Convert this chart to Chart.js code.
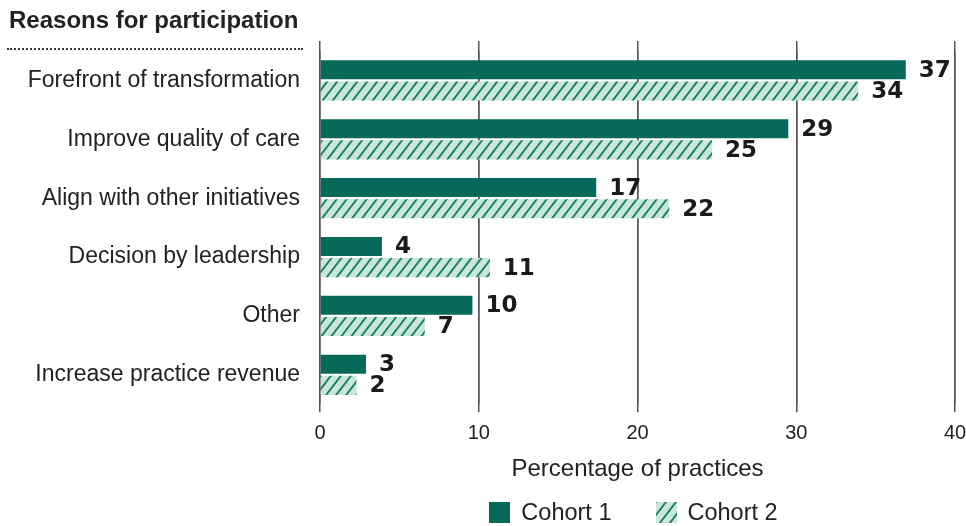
<!DOCTYPE html>
<html>
<head>
<meta charset="utf-8">
<script src="https://cdn.jsdelivr.net/npm/chart.js@4.4.1/dist/chart.umd.min.js"></script>
<style>
  html, body { margin: 0; padding: 0; background: #fff; }
  #wrap { position: relative; width: 966px; height: 526px; overflow: hidden; }
  #title {
    position: absolute; left: 9px; top: 6px;
    font: bold 24px "Liberation Sans", Arial, sans-serif; color: #222;
  }
  #rule {
    position: absolute; left: 7px; top: 48px; width: 296px; height: 0;
    border-top: 2px dotted #333;
  }
  canvas { position: absolute; left: 0; top: 0; }
  #legend {
    position: absolute; top: 499px; text-align: center;
    font: 23.5px "Liberation Sans", Arial, sans-serif; color: #222;
    white-space: nowrap;
  }
  #legend .item { display: inline-block; margin: 0 22px; }
  #legend canvas { position: static; vertical-align: -3px; margin-right: 11px; }
</style>
</head>
<body>
<div id="wrap">
  <canvas id="chart" width="966" height="526"></canvas>
  <div id="title">Reasons for participation</div>
  <div id="rule"></div>
  <div id="legend"></div>
</div>
<script>
// categories, top to bottom
const reasons = [
  'Forefront of transformation',
  'Improve quality of care',
  'Align with other initiatives',
  'Decision by leadership',
  'Other',
  'Increase practice revenue'
];
// bar lengths (percent of practices)
const cohort1 = [36.9, 29.5, 17.4, 3.9, 9.6, 2.9];
const cohort2 = [33.9, 24.7, 22.0, 10.7, 6.6, 2.3];
// printed value labels
const cohort1Labels = ['37', '29', '17', '4', '10', '3'];
const cohort2Labels = ['34', '25', '22', '11', '7', '2'];
const xTicks = [0, 10, 20, 30, 40];

const FONT = '"Liberation Sans", Arial, sans-serif';
const DARK = '#07695a';
const LIGHT = '#c6e7da';

// diagonal hatch for cohort 2
function makeHatch(g0) {
  const w = 10, h = 13;
  const c = document.createElement('canvas');
  c.width = w; c.height = h;
  const g = c.getContext('2d');
  g.fillStyle = LIGHT;
  g.fillRect(0, 0, w, h);
  g.strokeStyle = '#1c7a66';
  g.lineWidth = 1.9;
  g.beginPath();
  g.moveTo(-w, 2 * h); g.lineTo(2 * w, -h);
  g.moveTo(-2 * w, 2 * h); g.lineTo(w, -h);
  g.moveTo(0, 2 * h); g.lineTo(3 * w, -h);
  g.stroke();
  return g0.createPattern(c, 'repeat');
}

const ctx = document.getElementById('chart').getContext('2d');
const hatch = makeHatch(ctx);

// value labels at the bar ends
const valueLabels = {
  id: 'valueLabels',
  afterDatasetsDraw(chart) {
    const c = chart.ctx;
    const sets = [cohort1Labels, cohort2Labels];
    c.save();
    c.font = 'bold 23px "DejaVu Sans", ' + FONT;
    c.fillStyle = '#1a1a1a';
    c.textBaseline = 'middle';
    c.textAlign = 'left';
    chart.data.datasets.forEach((ds, i) => {
      chart.getDatasetMeta(i).data.forEach((bar, j) => {
        c.fillText(sets[i][j], bar.x + 13, bar.y + 1);
      });
    });
    c.restore();
  }
};

// html legend centred under the plot area
const htmlLegend = {
  id: 'htmlLegend',
  afterRender(chart) {
    const box = document.getElementById('legend');
    if (box.childNodes.length) return;
    const area = chart.chartArea;
    box.style.left = (area.left - 4) + 'px';
    box.style.width = (area.right - area.left) + 'px';
    chart.data.datasets.forEach(ds => {
      const item = document.createElement('span');
      item.className = 'item';
      const sw = document.createElement('canvas');
      sw.width = 21; sw.height = 21;
      const g = sw.getContext('2d');
      g.fillStyle = ds.backgroundColor === hatch ? makeHatch(g) : ds.backgroundColor;
      g.fillRect(0, 0, 21, 21);
      item.appendChild(sw);
      item.appendChild(document.createTextNode(ds.label));
      box.appendChild(item);
    });
  }
};

new Chart(ctx, {
  type: 'bar',
  data: {
    labels: reasons,
    datasets: [{
      label: 'Cohort 1',
      data: cohort1,
      backgroundColor: DARK,
      categoryPercentage: 0.72,
      barPercentage: 0.9
    }, {
      label: 'Cohort 2',
      data: cohort2,
      backgroundColor: hatch,
      categoryPercentage: 0.72,
      barPercentage: 0.9
    }]
  },
  options: {
    indexAxis: 'y',
    responsive: false,
    animation: false,
    layout: { padding: { top: 41, right: 0, left: 0, bottom: 42 } },
    scales: {
      x: {
        position: 'bottom',
        min: 0, max: 40,
        afterBuildTicks: s => { s.ticks = xTicks.map(v => ({ value: v })); },
        afterFit: s => { s.paddingRight = 11; },
        grid: { color: '#555', lineWidth: 1.5, tickLength: 8 },
        border: { display: false },
        ticks: { color: '#222', padding: 9, font: { family: FONT, size: 20 } },
        title: {
          display: true, text: 'Percentage of practices', color: '#222',
          font: { family: FONT, size: 24 }, padding: { top: 1, bottom: 0 }
        }
      },
      x2: {
        position: 'top',
        axis: 'x',
        min: 0, max: 40,
        afterBuildTicks: s => { s.ticks = xTicks.map(v => ({ value: v })); },
        grid: { color: '#555', lineWidth: 1.5, tickLength: 10 },
        border: { display: false },
        ticks: { display: false }
      },
      y: {
        grid: { display: false },
        border: { display: false },
        afterFit: s => { s.width = 320; },
        ticks: { color: '#222', padding: 12, font: { family: FONT, size: 23 } }
      }
    },
    plugins: {
      legend: { display: false },
      tooltip: { enabled: false }
    }
  },
  plugins: [valueLabels, htmlLegend]
});
</script>
</body>
</html>
